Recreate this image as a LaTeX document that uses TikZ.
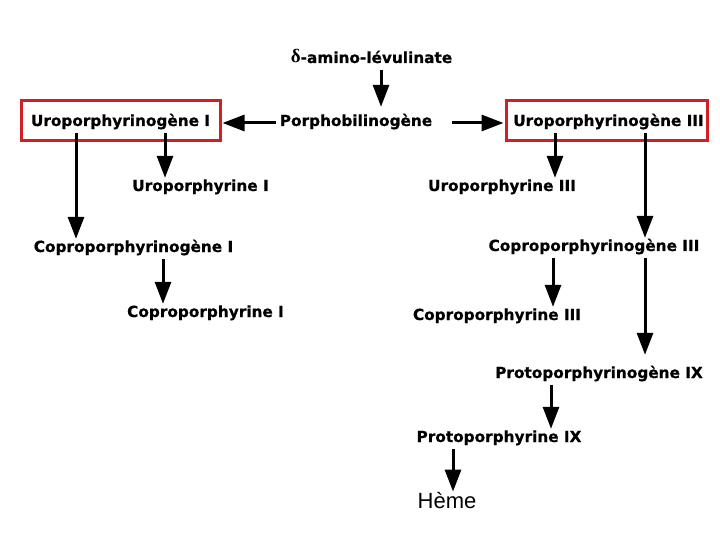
\documentclass[tikz,border=0pt]{standalone}
\usepackage{fontspec}
\setmainfont{DejaVu Sans}[BoldFeatures={FakeBold=0.6}]
\newfontfamily\hemefont{Liberation Sans}
\newfontfamily\grkfont{Liberation Serif}
\usetikzlibrary{arrows.meta,calc}
\definecolor{boxred}{RGB}{208,32,36}
\begin{document}
\begin{tikzpicture}[x=1pt,y=-1pt,
  lab/.style={font=\fontsize{15.3}{15}\selectfont\bfseries, inner xsep=0pt, inner ysep=2pt,
    text height=11pt, text depth=5pt, anchor=base},
  redbox/.style={draw=boxred, line width=3pt, inner sep=0pt},
  arr/.style={line width=3pt, -{Triangle[width=16pt,length=22pt]}}]
\useasboundingbox (0,0) rectangle (720,540);
% columns
\foreach \n/\x in {ca/381,cb/76,cc/165,cd/163,ce/555,cf/645,cg/553,ch/551,ci/453}
  \coordinate (\n) at (\x,0);
% labels
\node[lab] (ala) at (371.5,63) {{\grkfont\fontsize{19}{19}\selectfont δ}-amino-lévulinate};
\node[lab] (pbg) at (356,126) {Porphobilinogène};
\node[lab] (uroI) at (120.5,126) {Uroporphyrinogène I};
\node[lab] (uroIII) at (608.5,126) {Uroporphyrinogène III};
\node[lab] (upI) at (200.5,191) {Uroporphyrine I};
\node[lab] (upIII) at (502,191) {Uroporphyrine III};
\node[lab] (coproI) at (133.5,252) {Coproporphyrinogène I};
\node[lab] (coproIII) at (594,251) {Coproporphyrinogène III};
\node[lab] (cpI) at (205.5,317) {Coproporphyrine I};
\node[lab] (cpIII) at (497,320) {Coproporphyrine III};
\node[lab] (protoG) at (599,378) {Protoporphyrinogène IX};
\node[lab] (protoP) at (499,442) {Protoporphyrine IX};
\node[font=\hemefont\fontsize{22}{22}\selectfont, inner sep=0pt, anchor=base] (heme) at (447,508) {Hème};
% red boxes
\node[redbox, minimum width=199pt, minimum height=40pt] (boxI) at (120.5,121) {};
\node[redbox, minimum width=201pt, minimum height=40pt] (boxIII) at (606.5,121) {};
% connectors
\draw[arr, shorten >=6pt] (ala.south -| ca) -- (pbg.north -| ca);
\draw[arr, shorten <=4pt, shorten >=1pt] (pbg.west) -- (pbg.west -| boxI.east);
\draw[arr, shorten <=20pt, shorten >=1pt] (pbg.east) -- (pbg.east -| boxIII.west);
\draw[arr] (uroI.south -| cb) -- (coproI.north -| cb);
\draw[arr] (uroI.south -| cc) -- (upI.north -| cc);
\draw[arr] (coproI.south -| cd) -- (cpI.north -| cd);
\draw[arr] (uroIII.south -| ce) -- (upIII.north -| ce);
\draw[arr] (uroIII.south -| cf) -- (coproIII.north -| cf);
\draw[arr] (coproIII.south -| cg) -- (cpIII.north -| cg);
\draw[arr, shorten >=10pt] (coproIII.south -| cf) -- (protoG.north -| cf);
\draw[arr] (protoG.south -| ch) -- (protoP.north -| ch);
\draw[arr] (protoP.south -| ci) -- (heme.north -| ci);
\end{tikzpicture}
\end{document}
